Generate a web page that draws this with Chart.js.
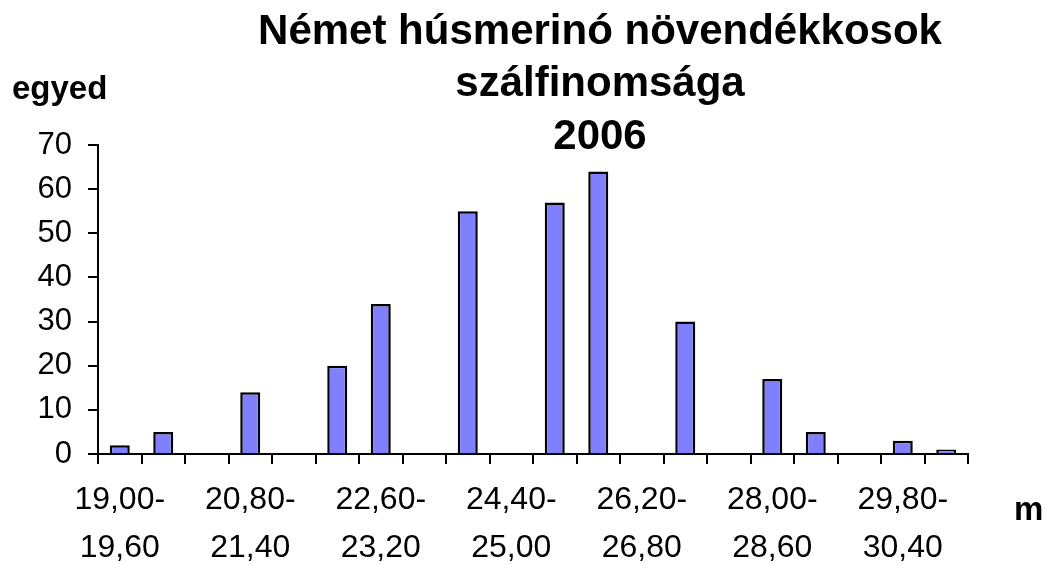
<!DOCTYPE html>
<html>
<head>
<meta charset="utf-8">
<script src="https://cdn.jsdelivr.net/npm/chart.js@4/dist/chart.umd.min.js"></script>
<style>
  html, body { margin: 0; padding: 0; background: #fff; }
  #wrap { width: 1047px; height: 565px; }
</style>
</head>
<body>
<div id="wrap"><canvas id="myChart" width="1047" height="565"></canvas></div>
<script>
// szálfinomság osztályok (mikron)
const categories = [
    "19,00-19,60", "19,60-20,20", "20,20-20,80", "20,80-21,40", "21,40-22,00",
    "22,00-22,60", "22,60-23,20", "23,20-23,80", "23,80-24,40", "24,40-25,00",
    "25,00-25,60", "25,60-26,20", "26,20-26,80", "26,80-27,40", "27,40-28,00",
    "28,00-28,60", "28,60-29,20", "29,20-29,80", "29,80-30,40", "30,40-31,00"
];
const egyed = [2, 5, 0, 14, 0, 20, 34, 0, 55, 0, 57, 64, 0, 30, 0, 17, 5, 0, 3, 1];
const yTicks = [0, 10, 20, 30, 40, 50, 60, 70];
const titleLines = ["Német húsmerinó növendékkosok", "szálfinomsága", "2006"];
const yTitle = "egyed";
const xTitle = "m";

const FONT = "'Liberation Sans', Arial, sans-serif";

const extraText = {
    id: "extraText",
    afterDraw(chart) {
        const ctx = chart.ctx;
        ctx.save();
        ctx.fillStyle = "#000";
        ctx.textBaseline = "middle";
        ctx.font = "bold 42px " + FONT;
        ctx.textAlign = "center";
        titleLines.forEach((t, i) => ctx.fillText(t, 600, 32 + i * 52.5));
        ctx.font = "bold 33px " + FONT;
        ctx.textAlign = "left";
        ctx.textBaseline = "alphabetic";
        ctx.fillText(yTitle, 12, 99);
        ctx.fillText(xTitle, 1014, 520);
        ctx.restore();
    }
};

const ctx = document.getElementById("myChart").getContext("2d");
const myChart = new Chart(ctx, {
    type: "bar",
    data: {
        labels: categories,
        datasets: [{
            label: yTitle,
            data: egyed,
            backgroundColor: "#8080FF",
            borderColor: "#000",
            borderWidth: 2.5,
            barPercentage: 0.46,
            categoryPercentage: 1.0,
        }],
    },
    options: {
        responsive: false,
        animation: false,
        layout: { padding: { top: 145, left: 0, right: 79, bottom: 0 } },
        plugins: {
            legend: { display: false },
            title: { display: false },
            tooltip: { enabled: false },
        },
        scales: {
            x: {
                offset: true,
                afterFit(scale) { scale.height = 111; },
                grid: {
                    offset: true,
                    drawOnChartArea: false,
                    drawTicks: true,
                    tickLength: 10,
                    color: "#000",
                    lineWidth: 2,
                },
                border: { color: "#000", width: 2 },
                ticks: {
                    autoSkip: false,
                    maxRotation: 0,
                    color: "#000",
                    padding: 12,
                    font: { family: FONT, size: 32, lineHeight: 1.5 },
                    callback(value, index) {
                        if (index % 3 !== 0) return "";
                        const parts = categories[index].split("-");
                        return [parts[0] + "-", parts[1]];
                    },
                },
            },
            y: {
                min: 0,
                max: 70,
                afterFit(scale) { scale.width = 98; },
                afterBuildTicks(scale) { scale.ticks = yTicks.map(v => ({ value: v })); },
                grid: {
                    drawOnChartArea: false,
                    drawTicks: true,
                    tickLength: 10,
                    color: "#000",
                    lineWidth: 2,
                },
                border: { color: "#000", width: 2 },
                ticks: {
                    color: "#000",
                    padding: 16,
                    font: { family: FONT, size: 31 },
                },
            },
        },
    },
    plugins: [extraText],
});
</script>
</body>
</html>
